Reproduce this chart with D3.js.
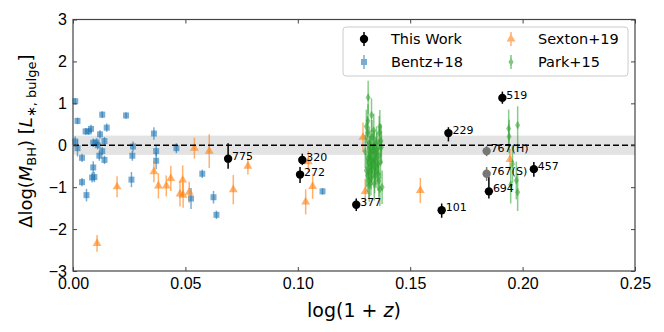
<!DOCTYPE html>
<html>
<head>
<meta charset="utf-8">
<script src="https://cdn.jsdelivr.net/npm/d3@7"></script>
<style>
  body { margin: 0; background: #fff; }
  svg { font-family: "DejaVu Sans", sans-serif; }
</style>
</head>
<body>
<div id="chart"></div>
<script>
// This Work: [log(1+z), dlogM, errLow, errHigh, label, colour]
const thisWork = [
    [0.069, -0.32, 0.24, 0.37, '775', '#000'],
    [0.102, -0.35, 0.12, 0.15, '320', '#000'],
    [0.101, -0.70, 0.20, 0.18, '272', '#000'],
    [0.126, -1.42, 0.15, 0.15, '377', '#000'],
    [0.164, -1.55, 0.18, 0.16, '101', '#000'],
    [0.167, 0.29, 0.20, 0.14, '229', '#000'],
    [0.191, 1.13, 0.14, 0.15, '519', '#000'],
    [0.185, -1.10, 0.17, 0.34, '694', '#000'],
    [0.205, -0.57, 0.18, 0.17, '457', '#000'],
    [0.184, -0.14, 0.12, 0.12, '767(H)', '#777'],
    [0.184, -0.68, 0.17, 0.16, '767(S)', '#777']
];

// Bentz+18: [log(1+z), dlogM, err]
const bentz = [
    [0.001, 1.05, 0.08], [0.002, 0.58, 0.08], [0.001, 0.09, 0.12], [0.002, -0.07, 0.2],
    [0.004, -0.30, 0.1], [0.004, -0.88, 0.1], [0.006, -1.19, 0.15], [0.0056, 0.33, 0.08],
    [0.007, 0.33, 0.08], [0.008, 0.39, 0.1], [0.009, 0.06, 0.1], [0.009, -0.53, 0.15],
    [0.0085, -0.77, 0.12], [0.0095, -0.76, 0.12], [0.0105, 0.07, 0.1], [0.011, 0.0, 0.1],
    [0.012, 0.26, 0.1], [0.0117, -0.25, 0.12], [0.013, -0.14, 0.1], [0.013, 0.73, 0.08],
    [0.014, 0.10, 0.1], [0.014, -0.35, 0.1], [0.015, 0.42, 0.1], [0.0236, 0.71, 0.08],
    [0.0267, -0.03, 0.12], [0.0264, -0.25, 0.12], [0.026, -0.82, 0.18], [0.036, 0.28, 0.15],
    [0.037, -0.14, 0.12], [0.037, -0.37, 0.2], [0.046, -0.07, 0.12], [0.0525, -1.27, 0.25],
    [0.0575, -0.68, 0.1], [0.0625, -1.24, 0.15], [0.0638, -1.66, 0.1], [0.111, -1.10, 0.08]
];

// Sexton+19: [log(1+z), dlogM, err]
const sexton = [
    [0.0107, -2.34, 0.2], [0.0196, -0.99, 0.25], [0.036, -0.63, 0.25], [0.038, -0.97, 0.3],
    [0.0415, -0.97, 0.25], [0.0435, -0.79, 0.3], [0.0476, -1.16, 0.3], [0.0488, -0.83, 0.35],
    [0.049, -1.19, 0.3], [0.0517, -1.12, 0.25], [0.054, -0.07, 0.25], [0.0606, -0.14, 0.4],
    [0.0778, -0.50, 0.2], [0.0713, -1.06, 0.35], [0.1047, -0.39, 0.25], [0.1066, -0.98, 0.3],
    [0.1035, -1.35, 0.3], [0.129, 0.19, 0.35], [0.130, -1.10, 0.3], [0.1545, -1.08, 0.3],
    [0.1944, -0.34, 0.25]
];

// Park+15: [log(1+z), dlogM, err]
const park = [
    [0.1313, 1.14, 0.4], [0.1328, 0.72, 0.4], [0.1312, 0.58, 0.4], [0.1305, 0.45, 0.4],
    [0.1310, 0.30, 0.4], [0.1330, 0.20, 0.4], [0.1365, 0.44, 0.4], [0.1362, 0.30, 0.4],
    [0.1370, 0.10, 0.4], [0.1372, -0.05, 0.4], [0.1318, 0.05, 0.4], [0.1325, -0.05, 0.4],
    [0.1335, -0.12, 0.4], [0.1345, -0.20, 0.4], [0.1320, -0.28, 0.4], [0.1340, -0.35, 0.4],
    [0.1315, -0.42, 0.4], [0.1355, -0.45, 0.4], [0.1330, -0.55, 0.4], [0.1348, -0.62, 0.4],
    [0.1310, -0.72, 0.4], [0.1325, -0.80, 0.4], [0.1360, -0.85, 0.4], [0.1340, -0.92, 0.4],
    [0.1375, -1.00, 0.4], [0.1365, -1.05, 0.4], [0.1318, -0.95, 0.4], [0.1352, -0.10, 0.4],
    [0.1338, 0.35, 0.4], [0.1300, -0.15, 0.4], [0.1350, 0.05, 0.4], [0.1342, -0.75, 0.4],
    [0.1328, -0.48, 0.4], [0.1360, -0.25, 0.4], [0.1305, -0.60, 0.4], [0.1322, -0.18, 0.4],
    [0.1334, -0.38, 0.4], [0.1346, -0.52, 0.4], [0.1312, -0.32, 0.4], [0.1356, -0.68, 0.4],
    [0.1326, -0.65, 0.4], [0.1340, -0.05, 0.4], [0.1368, -0.40, 0.4], [0.1316, -0.85, 0.4],
    [0.1938, 0.40, 0.45], [0.1940, 0.21, 0.4], [0.1978, 0.48, 0.45], [0.1947, -0.94, 0.45],
    [0.1978, -1.12, 0.45], [0.1972, -0.84, 0.45], [0.1955, -0.45, 0.45]
];

const xTicks = [0.00, 0.05, 0.10, 0.15, 0.20, 0.25];
const yTicks = [-3, -2, -1, 0, 1, 2, 3];
const bandHalfWidth = 0.23;

const W = 664, H = 332;
const margin = { left: 73, right: 29, top: 19.5, bottom: 61 };

const svg = d3.select('#chart').append('svg')
    .attr('width', W)
    .attr('height', H);

const x = d3.scaleLinear().domain([0, 0.25]).range([margin.left, W - margin.right]);
const y = d3.scaleLinear().domain([-3, 3]).range([H - margin.bottom, margin.top]);

const plot = svg.append('g');

// scatter band around zero
plot.append('rect')
    .attr('x', x(0)).attr('width', x(0.25) - x(0))
    .attr('y', y(bandHalfWidth)).attr('height', y(-bandHalfWidth) - y(bandHalfWidth))
    .attr('fill', '#000').attr('fill-opacity', 0.11);

// draws error bars + markers for one series
function drawSeries(data, colour, shape, size, opacity) {
    const g = plot.append('g');
    g.selectAll('line')
        .data(data)
        .enter()
        .append('line')
        .attr('x1', d => x(d[0])).attr('x2', d => x(d[0]))
        .attr('y1', d => y(d[1] - d[2])).attr('y2', d => y(d[1] + d[2]))
        .attr('stroke', colour).attr('stroke-width', 1.5)
        .attr('stroke-opacity', opacity);
    g.selectAll('path')
        .data(data)
        .enter()
        .append('path')
        .attr('d', d3.symbol().type(shape).size(size))
        .attr('transform', d => `translate(${x(d[0])},${y(d[1])})`)
        .attr('fill', colour)
        .attr('fill-opacity', opacity);
}

drawSeries(bentz, '#1f77b4', d3.symbolSquare, 36, 0.6);
drawSeries(sexton, '#ff7f0e', d3.symbolTriangle, 34, 0.6);
drawSeries(park, '#2ca02c', d3.symbolDiamond, 22, 0.55);

// zero line
plot.append('line')
    .attr('x1', x(0)).attr('x2', x(0.25))
    .attr('y1', y(0)).attr('y2', y(0))
    .attr('stroke', '#000').attr('stroke-width', 1.6)
    .attr('stroke-dasharray', '6,3');

// this work
const tw = plot.append('g');
tw.selectAll('line')
    .data(thisWork)
    .enter()
    .append('line')
    .attr('x1', d => x(d[0])).attr('x2', d => x(d[0]))
    .attr('y1', d => y(d[1] - d[2])).attr('y2', d => y(d[1] + d[3]))
    .attr('stroke', d => d[5]).attr('stroke-width', 1.5);
tw.selectAll('circle')
    .data(thisWork)
    .enter()
    .append('circle')
    .attr('cx', d => x(d[0])).attr('cy', d => y(d[1]))
    .attr('r', 4.2)
    .attr('fill', d => d[5]);
tw.selectAll('text')
    .data(thisWork)
    .enter()
    .append('text')
    .attr('x', d => x(d[0]) + 4)
    .attr('y', d => y(d[1]) + 1)
    .attr('font-size', 11)
    .attr('fill', '#000')
    .text(d => d[4]);

// axes, ticks inward on all sides
const axisCol = '#444';
function styleAxis(g) {
    g.select('.domain').remove();
    g.selectAll('.tick line').attr('stroke', axisCol);
    g.selectAll('.tick text').attr('fill', '#000').attr('font-size', 16);
}
svg.append('g')
    .attr('transform', `translate(0,${y(-3)})`)
    .call(d3.axisBottom(x).tickValues(xTicks).tickFormat(d3.format('.2f'))
        .tickSizeInner(-4).tickPadding(7))
    .call(styleAxis);
svg.append('g')
    .attr('transform', `translate(0,${y(3)})`)
    .call(d3.axisTop(x).tickValues(xTicks).tickSizeInner(-4).tickFormat(''))
    .call(styleAxis);
svg.append('g')
    .attr('transform', `translate(${x(0)},0)`)
    .call(d3.axisLeft(y).tickValues(yTicks).tickFormat(d => d < 0 ? '\u2212' + (-d) : d)
        .tickSizeInner(-4).tickPadding(6))
    .call(styleAxis);
svg.append('g')
    .attr('transform', `translate(${x(0.25)},0)`)
    .call(d3.axisRight(y).tickValues(yTicks).tickSizeInner(-4).tickFormat(''))
    .call(styleAxis);

svg.append('rect')
    .attr('x', x(0)).attr('y', y(3))
    .attr('width', x(0.25) - x(0)).attr('height', y(-3) - y(3))
    .attr('fill', 'none').attr('stroke', axisCol).attr('stroke-width', 1.2);

// axis labels
const xl = svg.append('text')
    .attr('x', (x(0) + x(0.25)) / 2).attr('y', 317)
    .attr('text-anchor', 'middle').attr('font-size', 19);
xl.append('tspan').text('log(1 + ');
xl.append('tspan').attr('font-style', 'italic').text('z');
xl.append('tspan').text(')');

const yl = svg.append('text')
    .attr('transform', `translate(32,${(y(3) + y(-3)) / 2 - 4}) rotate(-90)`)
    .attr('text-anchor', 'middle').attr('font-size', 18);
yl.append('tspan').text('\u0394log(');
yl.append('tspan').attr('font-style', 'italic').text('M');
yl.append('tspan').attr('font-size', 13).attr('dy', 4).text('BH');
yl.append('tspan').attr('dy', -4).text(') [');
yl.append('tspan').attr('font-style', 'italic').text('L');
yl.append('tspan').attr('font-size', 13).attr('dy', 4).text('\u2217, bulge');
yl.append('tspan').attr('dy', -4).text(']');

// legend
const leg = svg.append('g');
leg.append('rect')
    .attr('x', 343).attr('y', 27).attr('width', 285).attr('height', 49).attr('rx', 3)
    .attr('fill', '#fff').attr('fill-opacity', 0.85)
    .attr('stroke', '#ccc');
const legendItems = [
    { name: 'This Work', colour: '#000', shape: d3.symbolCircle, size: 55, op: 1, lx: 364, ly: 39 },
    { name: 'Bentz+18', colour: '#1f77b4', shape: d3.symbolSquare, size: 36, op: 0.6, lx: 364, ly: 62 },
    { name: 'Sexton+19', colour: '#ff7f0e', shape: d3.symbolTriangle, size: 34, op: 0.6, lx: 511, ly: 39 },
    { name: 'Park+15', colour: '#2ca02c', shape: d3.symbolDiamond, size: 22, op: 0.6, lx: 511, ly: 62 }
];
legendItems.forEach(it => {
    const g = leg.append('g').attr('opacity', it.op);
    g.append('line')
        .attr('x1', it.lx).attr('x2', it.lx)
        .attr('y1', it.ly - 7).attr('y2', it.ly + 7)
        .attr('stroke', it.colour).attr('stroke-width', 1.5);
    g.append('path')
        .attr('d', d3.symbol().type(it.shape).size(it.size))
        .attr('transform', `translate(${it.lx},${it.ly})`)
        .attr('fill', it.colour);
    leg.append('text')
        .attr('x', it.lx + 27).attr('y', it.ly + 5)
        .attr('font-size', 14.5)
        .text(it.name);
});
</script>
</body>
</html>
